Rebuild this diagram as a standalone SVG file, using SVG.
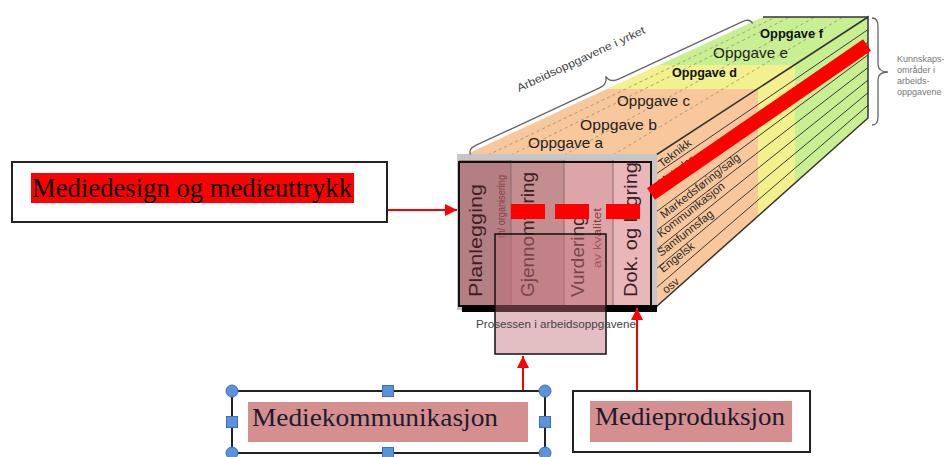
<svg xmlns="http://www.w3.org/2000/svg" width="944" height="457" viewBox="0 0 944 457">
<defs>
<style>
.sans{font-family:"Liberation Sans",Arial,sans-serif}
.serif{font-family:"Liberation Serif","Times New Roman",serif}
.box{fill:#fff;stroke:#222;stroke-width:2}
.conn{stroke:#ff0000;stroke-width:2;fill:none}
.row{stroke:#3a3a3a;stroke-width:1;fill:none}
.dash{stroke:#9a8a70;stroke-width:0.8;stroke-dasharray:3 3;fill:none}
.handle{fill:#5b92dc;stroke:#3b6fb8;stroke-width:1}
.brace{fill:none;stroke:#666;stroke-width:1.3}
.task{font-size:15px;fill:#222}
.taskb{font-size:13px;font-weight:bold;fill:#111}
.area{font-size:11.5px;fill:#2a2a2a}
.col{font-size:19px;fill:#3a2224}
.sub{font-size:10px;fill:#8a3e46}
</style>
<marker id="ah" viewBox="0 0 10 10" refX="10" refY="5" markerWidth="12" markerHeight="12" markerUnits="userSpaceOnUse" orient="auto">
<path d="M0,0 L10,5 L0,10 z" fill="#ff0000"/>
</marker>
</defs>

<g id="cube">
<polygon points="465,155 656,155 758,89 607,89" fill="#f8c89c"/>
<polygon points="607,89 758,89 795,65 659,65" fill="#f3f08e"/>
<polygon points="659,65 795,65 868,17 763,17" fill="#c8f092"/>
<path class="dash" d="M511,155 L790,17 M564,155 L815,17 M613,155 L843,17 M488,155 L776,17"/>
<line x1="763" y1="17" x2="868" y2="17" stroke="#333" stroke-width="1.5"/>
<polygon points="656,155 758,89 758,216 656,307" fill="#f8c89c"/>
<polygon points="758,89 795,65 795,183 758,216" fill="#f3f08e"/>
<polygon points="795,65 868,17 868,118 795,183" fill="#c8f092"/>
<path class="row" d="M656,174 L868,29.6 M656,193 L868,42.3 M656,212 L868,54.9 M656,231 L868,67.5 M656,250 L868,80.1 M656,269 L868,92.7 M656,288 L868,105.3"/>
<path d="M656,155 L868,17 L868,118 L656,307" fill="none" stroke="#333" stroke-width="1.5"/>
<g class="sans area">
<text transform="translate(662,168) rotate(-38)">Teknikk</text>
<text transform="translate(662,187) rotate(-38)">Metoder</text>
<text transform="translate(664,219) rotate(-38)">Markedsføring/salg</text>
<text transform="translate(661,238) rotate(-38)">Kommunikasjon</text>
<text transform="translate(661,257) rotate(-38)">Samfunnsfag</text>
<text transform="translate(663,273) rotate(-38)">Engelsk</text>
<text transform="translate(666,294) rotate(-38)">osv</text>
</g>
<g class="sans">
<text class="task" x="528" y="148" textLength="75" lengthAdjust="spacingAndGlyphs">Oppgave a</text>
<text class="task" x="580" y="130" textLength="77" lengthAdjust="spacingAndGlyphs">Oppgave b</text>
<text class="task" x="617" y="106" textLength="73" lengthAdjust="spacingAndGlyphs">Oppgave c</text>
<text class="taskb" x="672" y="77" textLength="65" lengthAdjust="spacingAndGlyphs">Oppgave d</text>
<text class="task" x="713" y="58" textLength="75" lengthAdjust="spacingAndGlyphs">Oppgave e</text>
<text class="taskb" x="760" y="38" textLength="63" lengthAdjust="spacingAndGlyphs">Oppgave f</text>
</g>
<rect x="457" y="154" width="200" height="156" fill="#c6c6c6"/>
<rect x="459" y="160" width="52" height="146" fill="#b37f84"/>
<rect x="511" y="160" width="53" height="146" fill="#c48e91"/>
<rect x="564" y="160" width="49" height="146" fill="#dca6a9"/>
<rect x="613" y="160" width="38" height="146" fill="#e9b7ba"/>
<path d="M511,160 V306 M564,160 V306 M613,160 V306" stroke="#8a6a6c" stroke-width="1"/>
<g class="sans">
<text class="col" transform="translate(482,297) rotate(-90)" textLength="113" lengthAdjust="spacingAndGlyphs">Planlegging</text>
<text class="sub" transform="translate(505,238) rotate(-90)" textLength="63" lengthAdjust="spacingAndGlyphs">m/ organisering</text>
<text class="col" transform="translate(534,297) rotate(-90)" textLength="125" lengthAdjust="spacingAndGlyphs">Gjennomføring</text>
<text class="col" transform="translate(584,297) rotate(-90)">Vurdering</text>
<text class="sub" transform="translate(601,268) rotate(-90)" textLength="60" lengthAdjust="spacingAndGlyphs">av kvalitet</text>
<text class="col" transform="translate(637,297) rotate(-90)" textLength="135" lengthAdjust="spacingAndGlyphs">Dok. og lagring</text>
</g>
<rect x="459" y="162" width="192" height="144" fill="none" stroke="#111" stroke-width="2"/>
<rect x="462" y="305" width="195" height="7" fill="#000"/>
<rect x="495" y="234" width="111" height="120" fill="#c0707a" fill-opacity="0.45" stroke="#111" stroke-width="1.5"/>
<text class="sans" x="476" y="328" font-size="11" fill="#444" textLength="160" lengthAdjust="spacingAndGlyphs">Prosessen i arbeidsoppgavene</text>
<path d="M511,211.5 H545 M555,211.5 H589 M606,211.5 H640" stroke="#ff0000" stroke-width="15"/>
<line x1="651" y1="194" x2="867" y2="45" stroke="#ff0000" stroke-width="14"/>
<path class="brace" transform="translate(468,149) rotate(-24.9)" d="M0,6 Q0,0 9,0 L145,0 Q154,0 155.5,-8 Q157,0 166,0 L302,0 Q311,0 311,6"/>
<text class="sans" transform="translate(519,92) rotate(-25)" font-size="11" fill="#444" textLength="140" lengthAdjust="spacingAndGlyphs">Arbeidsoppgavene i yrket</text>
<path class="brace" d="M872,18 Q878,18 878,26 L878,64 Q878,72 888,72 Q878,72 878,80 L878,117 Q878,125 872,125"/>
<g class="sans" font-size="9" fill="#777">
<text x="897" y="62">Kunnskaps-</text>
<text x="897" y="73">områder i</text>
<text x="897" y="84">arbeids-</text>
<text x="897" y="95">oppgavene</text>
</g>
</g>

<g id="connectors">
<line class="conn" x1="387" y1="210" x2="457" y2="210" marker-end="url(#ah)"/>
<line class="conn" x1="523" y1="391" x2="523" y2="356" marker-end="url(#ah)"/>
<line class="conn" x1="637" y1="391" x2="637" y2="308" marker-end="url(#ah)"/>
</g>

<g id="mediedesign">
<rect class="box" x="12" y="162" width="375" height="60"/>
<rect x="31" y="173" width="323" height="30" fill="#ff0000"/>
<text class="serif" x="32" y="197" font-size="27" fill="#000" textLength="320" lengthAdjust="spacingAndGlyphs">Mediedesign og medieuttrykk</text>
</g>

<g id="mediekommunikasjon">
<rect class="box" x="232" y="391" width="313" height="62"/>
<rect x="248" y="402" width="280" height="40" fill="#d68f8f"/>
<text class="serif" x="252" y="426" font-size="25" fill="#1b1b2f" textLength="246" lengthAdjust="spacingAndGlyphs">Mediekommunikasjon</text>
<circle class="handle" cx="232" cy="391" r="6"/>
<circle class="handle" cx="545" cy="391" r="6"/>
<circle class="handle" cx="232" cy="453" r="6"/>
<circle class="handle" cx="545" cy="453" r="6"/>
<rect class="handle" x="382.5" y="385.5" width="11" height="11"/>
<rect class="handle" x="382.5" y="447.5" width="11" height="11"/>
<rect class="handle" x="226.5" y="416.5" width="11" height="11"/>
<rect class="handle" x="539.5" y="416.5" width="11" height="11"/>
</g>

<g id="medieproduksjon">
<rect class="box" x="573" y="391" width="237" height="61"/>
<rect x="590" y="401" width="202" height="41" fill="#d68f8f"/>
<text class="serif" x="595" y="425" font-size="25" fill="#1b1b2f" textLength="190" lengthAdjust="spacingAndGlyphs">Medieproduksjon</text>
</g>
</svg>
